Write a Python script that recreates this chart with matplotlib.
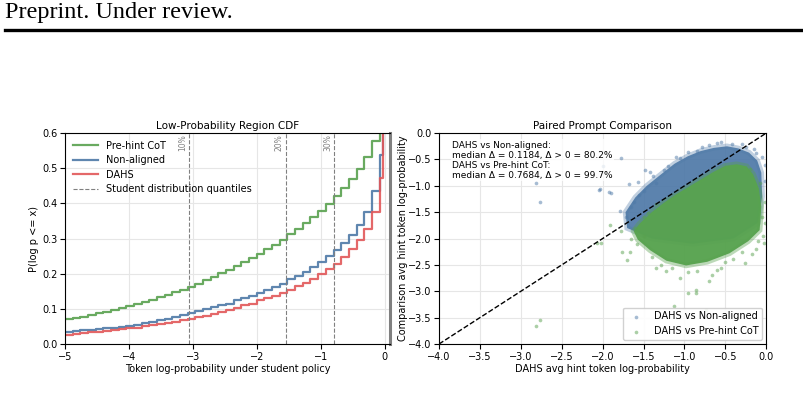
import numpy as np
import matplotlib
matplotlib.use('Agg')
import matplotlib.pyplot as plt
from matplotlib.lines import Line2D

# CDF step edges (token log-prob) and cumulative fractions
edges = [-5.00, -4.88, -4.76, -4.64, -4.52, -4.40, -4.28, -4.16, -4.04, -3.92,
         -3.80, -3.68, -3.56, -3.44, -3.32, -3.20, -3.08, -2.96, -2.84, -2.72,
         -2.60, -2.48, -2.36, -2.24, -2.12, -2.00, -1.88, -1.76, -1.64, -1.52,
         -1.40, -1.28, -1.16, -1.04, -0.92, -0.80, -0.68, -0.56, -0.44, -0.32,
         -0.20, -0.08, -0.02]
cdf_prehint = [0.070, 0.074, 0.078, 0.083, 0.087, 0.092, 0.097, 0.103, 0.108, 0.114,
               0.120, 0.126, 0.133, 0.140, 0.147, 0.155, 0.163, 0.172, 0.181, 0.191,
               0.201, 0.210, 0.221, 0.233, 0.244, 0.257, 0.271, 0.283, 0.297, 0.313,
               0.327, 0.344, 0.361, 0.379, 0.398, 0.422, 0.444, 0.469, 0.497, 0.533,
               0.579, 0.640, 0.680]
cdf_nonaligned = [0.034, 0.036, 0.039, 0.041, 0.043, 0.045, 0.047, 0.049, 0.052, 0.055,
                  0.059, 0.063, 0.067, 0.071, 0.076, 0.082, 0.087, 0.093, 0.099, 0.105,
                  0.110, 0.115, 0.125, 0.132, 0.138, 0.146, 0.155, 0.163, 0.172, 0.184,
                  0.193, 0.206, 0.219, 0.233, 0.250, 0.267, 0.288, 0.311, 0.339, 0.377,
                  0.434, 0.537, 0.680]
cdf_dahs = [0.027, 0.029, 0.031, 0.033, 0.035, 0.037, 0.040, 0.042, 0.045, 0.047,
            0.050, 0.054, 0.057, 0.060, 0.064, 0.068, 0.072, 0.077, 0.081, 0.086,
            0.091, 0.096, 0.103, 0.110, 0.115, 0.125, 0.132, 0.138, 0.146, 0.155,
            0.165, 0.174, 0.185, 0.198, 0.214, 0.229, 0.248, 0.269, 0.295, 0.327,
            0.375, 0.471, 0.680]
quantile_x = [-3.06, -1.55, -0.79]
quantile_labels = ['10%', '20%', '30%']

# paired prompt comparison: outlines of the dense point clouds
blue_cloud_x = [-1.72, -1.60, -1.46, -1.30, -1.12, -0.96, -0.80, -0.64, -0.48, -0.34,
                -0.21, -0.11, -0.06, -0.05, -0.10, -0.40, -0.90, -1.40, -1.70]
blue_cloud_y = [-1.50, -1.22, -1.00, -0.80, -0.58, -0.44, -0.34, -0.28, -0.25, -0.29,
                -0.37, -0.52, -0.75, -1.20, -1.70, -2.00, -2.10, -2.00, -1.80]
green_cloud_x = [-1.55, -1.40, -1.25, -1.10, -0.95, -0.80, -0.65, -0.50, -0.36, -0.24,
                 -0.16, -0.09, -0.06, -0.08, -0.22, -0.45, -0.72, -0.98, -1.22, -1.42,
                 -1.57, -1.62]
green_cloud_y = [-1.72, -1.50, -1.32, -1.16, -1.02, -0.88, -0.74, -0.62, -0.59, -0.63,
                 -0.78, -1.05, -1.40, -1.84, -2.05, -2.28, -2.44, -2.51, -2.42, -2.22,
                 -2.02, -1.86]
# scattered points outside the dense clouds
blue_pts_x = [-2.82, -2.76, -2.05, -2.03, -1.92, -1.77, -1.99, -1.90, -1.68, -1.57,
              -1.79, -1.48, -1.42, -1.62, -1.55, -1.10, -0.30, -0.02, -1.20, -1.05,
              -0.85, -0.70, -0.55, -0.42, -0.25, -0.12, -0.05, -0.01, -1.35, -1.50,
              -1.65, -0.95, -0.60, -1.38, -1.25, -0.78, -0.15, -1.72]
blue_pts_y = [-0.95, -1.31, -1.08, -1.06, -1.11, -0.47, -0.62, -1.13, -0.97, -0.92,
              -1.48, -0.70, -0.73, -1.30, -1.18, -0.45, -0.20, -0.60, -0.62, -0.47,
              -0.33, -0.22, -0.17, -0.20, -0.27, -0.38, -0.45, -0.90, -0.95, -1.10,
              -1.40, -0.36, -0.19, -0.82, -0.70, -0.27, -0.30, -1.60]
green_pts_x = [-2.82, -2.76, -0.95, -0.86, -0.86, -1.13, -0.74, -1.76, -1.66, -2.02,
               -1.22, -0.95, -0.66, -0.55, -0.17, -0.03, -0.26, -2.07, -1.91, -1.77,
               -1.70, -1.35, -0.60, -0.12, -0.05, -1.50, -1.50, -1.58, -1.40, -1.15,
               -0.85, -0.50, -0.30, -0.10, -0.02, -0.01, -0.08, -0.20, -1.65, -1.35,
               -1.05, -0.70, -1.60, -1.28, -0.40, -0.04, -1.45]
green_pts_y = [-3.66, -3.55, -3.04, -2.98, -3.04, -3.28, -3.36, -2.25, -2.25, -2.09,
               -2.61, -2.63, -2.70, -2.55, -2.29, -2.09, -2.46, -2.08, -1.74, -1.85,
               -2.40, -2.55, -2.60, -2.20, -1.60, -1.60, -1.95, -2.10, -2.35, -2.55,
               -2.62, -2.45, -2.25, -2.05, -1.70, -1.30, -0.95, -0.68, -2.00, -1.35,
               -2.75, -2.80, -1.80, -2.50, -2.38, -1.95, -1.52]
stats_text = ('DAHS vs Non-aligned:\nmedian \u0394 = 0.1184, \u0394 > 0 = 80.2%\n'
              'DAHS vs Pre-hint CoT:\nmedian \u0394 = 0.7684, \u0394 > 0 = 99.7%')

c_green = '#59a14f'
c_blue = '#4e79a7'
c_red = '#e15759'

plt.rcParams['font.size'] = 7
plt.rcParams['xtick.major.pad'] = 2
plt.rcParams['ytick.major.pad'] = 2
plt.rcParams['axes.labelpad'] = 2
fig = plt.figure(figsize=(8.04, 4.16), dpi=100)

# page header
fig.text(0.006, 0.995, 'Preprint. Under review.', family='Liberation Serif',
         fontsize=17.5, va='top', ha='left')
fig.add_artist(Line2D([0.006, 0.996], [0.929, 0.929], color='black', lw=2.4,
                      transform=fig.transFigure))

ax1 = fig.add_axes([0.0808, 0.173, 0.404, 0.507])
ax2 = fig.add_axes([0.546, 0.173, 0.407, 0.507])

# left: CDF
ax1.step(edges, cdf_prehint, where='post', color=c_green, lw=1.6, alpha=0.9, label='Pre-hint CoT')
ax1.step(edges, cdf_nonaligned, where='post', color=c_blue, lw=1.6, alpha=0.9, label='Non-aligned')
ax1.step(edges, cdf_dahs, where='post', color=c_red, lw=1.6, alpha=0.9, label='DAHS')
for i, (q, lab) in enumerate(zip(quantile_x, quantile_labels)):
    ax1.axvline(q, color='gray', ls='--', lw=0.8,
                label='Student distribution quantiles' if i == 0 else None)
    ax1.text(q - 0.03, 0.597, lab, rotation=90, fontsize=5.5, color='gray',
             ha='right', va='top')
ax1.set_xlim(-5, 0.08)
ax1.set_ylim(0, 0.6)
ax1.set_xticks([-5, -4, -3, -2, -1, 0])
ax1.set_yticks([0.0, 0.1, 0.2, 0.3, 0.4, 0.5, 0.6])
ax1.grid(True, color='#e6e6e6', lw=0.8)
ax1.set_axisbelow(True)
ax1.spines['right'].set_color('#808080')
ax1.spines['right'].set_linewidth(2.2)
ax1.set_xlabel('Token log-probability under student policy')
ax1.set_ylabel('P(log p <= x)')
ax1.set_title('Low-Probability Region CDF', fontsize=7.5, pad=3)
ax1.legend(loc='upper left', frameon=False, fontsize=7, handlelength=2.6,
           borderaxespad=0.4, labelspacing=0.45)

# right: paired scatter (soft halo first, then the dense core)
ax2.fill(blue_cloud_x, blue_cloud_y, facecolor='none', lw=4,
         edgecolor=c_blue, alpha=0.35)
ax2.fill(blue_cloud_x, blue_cloud_y, color=c_blue, alpha=0.92, lw=0)
ax2.scatter(blue_pts_x, blue_pts_y, s=7, color=c_blue, alpha=0.5, lw=0,
            label='DAHS vs Non-aligned')
ax2.fill(green_cloud_x, green_cloud_y, facecolor='none', lw=4,
         edgecolor=c_green, alpha=0.4)
ax2.fill(green_cloud_x, green_cloud_y, color='#58a34f', alpha=0.97, lw=0)
ax2.scatter(green_pts_x, green_pts_y, s=7, color=c_green, alpha=0.5, lw=0,
            label='DAHS vs Pre-hint CoT')
lims = [-4, 0]
ax2.plot(lims, lims, 'k--', lw=1)
ax2.set_xlim(lims)
ax2.set_ylim(lims)
ticks = [-4.0, -3.5, -3.0, -2.5, -2.0, -1.5, -1.0, -0.5, 0.0]
ax2.set_xticks(ticks)
ax2.set_yticks(ticks)
ax2.grid(True, color='#e6e6e6', lw=0.8)
ax2.set_axisbelow(True)
ax2.set_xlabel('DAHS avg hint token log-probability')
ax2.set_ylabel('Comparison avg hint token log-probability', labelpad=0)
ax2.set_title('Paired Prompt Comparison', fontsize=7.5, pad=3)
ax2.text(0.04, 0.965, stats_text, transform=ax2.transAxes, fontsize=6.5,
         va='top', ha='left', linespacing=1.15,
         bbox=dict(facecolor='white', edgecolor='none', alpha=0.8, pad=1))
ax2.legend(loc='lower right', fontsize=7, markerscale=1.0, framealpha=0.9,
           edgecolor='#cccccc', borderaxespad=0.4)

fig.savefig('out.png', dpi=100)
